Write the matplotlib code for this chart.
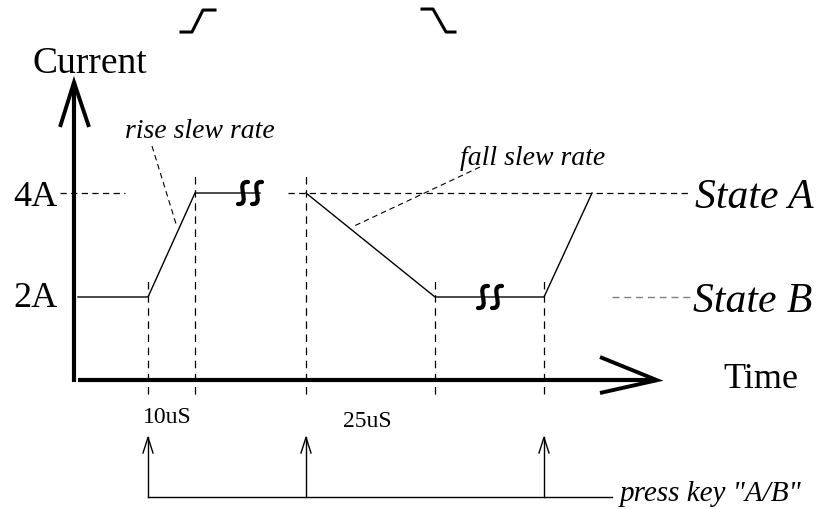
import numpy as np
import matplotlib.pyplot as plt
from matplotlib.path import Path
from matplotlib.patches import PathPatch

# ===== 数据 =====
# 电流电平 (A)
level_a = 4.0
level_b = 2.0
axis_i = 0.4            # 时间轴所在电流位置

# 波形拐点: 时间 (任意单位) 与电流 (A)
wave_t = [78, 148, 195, 260]
wave_i = [level_b, level_b, level_a, level_a]
wave2_t = [306, 435, 544, 592]
wave2_i = [level_a, level_b, level_b, level_a]

# 各边沿时刻（虚线标记）
edge_t = [148, 195, 306, 435, 544]
edge_top = [2.385, 4.404, 4.404, 2.385, 2.385]

# 按键触发时刻
key_t = [148, 306, 544]

# 时间标注
time_labels = ["10uS", "25uS"]
time_label_t = [143, 343]
time_label_i = [-0.404, -0.481]

# 断开符号位置
break_t = [243, 257, 483, 497]
break_i = [level_a, level_a, level_b, level_b]

PX = 1 / 52.0          # 每像素对应的电流


def s_curve(ax, cx, cy, w=5, h=11):
    """画一个 S 形断开符号"""
    verts = [(cx + w, cy + h * PX), (cx - 1.8 * w, cy + 1.1 * h * PX),
             (cx + 1.8 * w, cy - 1.1 * h * PX), (cx - w, cy - h * PX)]
    codes = [Path.MOVETO, Path.CURVE4, Path.CURVE4, Path.CURVE4]
    ax.add_patch(PathPatch(Path(verts, codes), fill=False, lw=3.0,
                           edgecolor='black', capstyle='round'))


fig = plt.figure(figsize=(8.26, 5.10), dpi=100)
ax = fig.add_axes([0, 0, 1, 1])
ax.set_xlim(0, 826)
ax.set_ylim(-2.077, 7.731)
ax.axis('off')

plt.rcParams['font.family'] = ['Liberation Serif', 'DejaVu Serif']

# 坐标轴（粗线 + 箭头）
ax.plot([74, 74], [0.365, 6.135], color='black', lw=3.0, solid_capstyle='butt')
ax.plot([60, 74, 89], [5.27, 6.13, 5.27], color='black', lw=2.8,
        solid_joinstyle='miter', solid_capstyle='butt')
ax.plot([78, 655], [axis_i, axis_i], color='black', lw=3.0, solid_capstyle='butt')
ax.plot([600, 657, 600], [0.846, axis_i, 0.154], color='black', lw=2.8,
        solid_joinstyle='miter', solid_capstyle='butt')

# 波形
ax.plot(wave_t, wave_i, color='black', lw=1.0)
ax.plot(wave2_t, wave2_i, color='black', lw=1.0)

# 断开符号
for t, i in zip(break_t, break_i):
    s_curve(ax, t, i)

# 电平虚线
ax.plot([60, 125], [level_a, level_a], color='black', lw=0.9, ls=(0, (5, 3.5)))
ax.plot([288, 690], [level_a, level_a], color='black', lw=0.9, ls=(0, (5, 3.5)))
ax.plot([612, 690], [level_b, level_b], color='#808080', lw=1.0, ls=(0, (5, 3.5)))

# 边沿竖虚线
for t, top in zip(edge_t, edge_top):
    ax.plot([t, t], [0.135, top], color='black', lw=0.9, ls=(0, (6, 4.5)))

# 斜率标注引线
ax.plot([152, 177], [4.904, 3.346], color='black', lw=0.8, ls=(0, (5, 3.5)))
ax.plot([480, 352], [4.5, 3.346], color='black', lw=0.8, ls=(0, (5, 3.5)))

# 顶部上升/下降沿图标
ax.plot([181, 192, 203, 215], [7.096, 7.096, 7.519, 7.519], color='black', lw=2.2)
ax.plot([422, 433, 446, 455], [7.538, 7.538, 7.096, 7.096], color='black', lw=2.2)

# 按键触发箭头
for t in key_t:
    ax.plot([t, t], [-1.846, -0.70], color='black', lw=1.0)
    ax.plot([t - 5, t, t + 5], [-1.0, -0.70, -1.0], color='black', lw=1.0)
ax.plot([key_t[0], 612], [-1.846, -1.846], color='black', lw=1.0)

# 文字
ax.text(33, 6.327, "Current", fontsize=27, ha='left', va='baseline')
ax.text(13, 3.769, "4A", fontsize=26, ha='left', va='baseline')
ax.text(13, 1.827, "2A", fontsize=26, ha='left', va='baseline')
ax.text(723, 0.269, "Time", fontsize=26, ha='left', va='baseline')
ax.text(695, 3.731, "State A", fontsize=30, style='italic', ha='left', va='baseline')
ax.text(693, 1.731, "State B", fontsize=30, style='italic', ha='left', va='baseline')
ax.text(125, 5.077, "rise slew rate", fontsize=20, style='italic', ha='left', va='baseline')
ax.text(460, 4.558, "fall slew rate", fontsize=20, style='italic', ha='left', va='baseline')
ax.text(620, -1.904, 'press key "A/B"', fontsize=21, style='italic', ha='left', va='baseline')
for lab, t, i in zip(time_labels, time_label_t, time_label_i):
    ax.text(t, i, lab, fontsize=17, ha='left', va='baseline')

fig.savefig('out.png', dpi=100)
